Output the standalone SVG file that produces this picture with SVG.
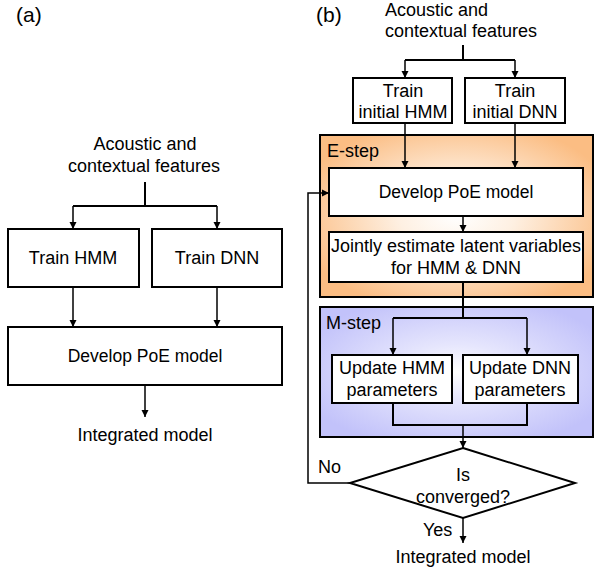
<svg xmlns="http://www.w3.org/2000/svg" width="607" height="574" viewBox="0 0 607 574">
<defs>
<marker id="ah" markerWidth="8" markerHeight="8" refX="7" refY="4" orient="auto" markerUnits="userSpaceOnUse">
<path d="M0,0.5 L7,4 L0,7.5 Z" fill="#000"/>
</marker>
<radialGradient id="gE" cx="0.5" cy="0.5" r="0.6">
<stop offset="0" stop-color="#ffffff"/>
<stop offset="0.35" stop-color="#fef0e2"/>
<stop offset="1" stop-color="#fbbd83"/>
</radialGradient>
<radialGradient id="gM" cx="0.5" cy="0.5" r="0.6">
<stop offset="0" stop-color="#ffffff"/>
<stop offset="0.35" stop-color="#e6e6fd"/>
<stop offset="1" stop-color="#c2c2fa"/>
</radialGradient>
</defs>
<style>
text{font-family:"Liberation Sans",Arial,sans-serif;font-size:18px;fill:#000}
.c{text-anchor:middle}
.s{font-size:17.5px}
.box{fill:#fff;stroke:#000;stroke-width:2}
.reg{stroke:#000;stroke-width:2}
.ln{fill:none;stroke:#000;stroke-width:2}
.ar{fill:none;stroke:#000;stroke-width:1.5;marker-end:url(#ah)}
</style>
<rect width="607" height="574" fill="#fff"/>

<text x="16" y="22" style="font-size:21px">(a)</text>
<text x="316" y="22" style="font-size:21px">(b)</text>

<g id="a-input">
<text class="c" x="145" y="150">Acoustic and</text>
<text class="c" x="144" y="172">contextual features</text>
</g>
<g id="a-train-hmm"><rect class="box" x="8" y="229" width="131" height="58"/><text class="c" x="73" y="264">Train HMM</text></g>
<g id="a-train-dnn"><rect class="box" x="152" y="229" width="130" height="58"/><text class="c" x="217" y="264">Train DNN</text></g>
<g id="a-poe"><rect class="box" x="8" y="327" width="274" height="58"/><text class="c s" x="145" y="362">Develop PoE model</text></g>
<g id="a-output"><text class="c" x="145" y="441">Integrated model</text></g>

<g id="b-input">
<text x="385" y="16">Acoustic and</text>
<text x="385" y="37">contextual features</text>
</g>
<g id="e-step"><rect class="reg" x="320" y="135" width="273" height="162" fill="url(#gE)"/><text x="327" y="157">E-step</text></g>
<g id="m-step"><rect class="reg" x="320" y="307" width="273" height="130" fill="url(#gM)"/><text x="326" y="329">M-step</text></g>
<g id="b-train-hmm"><rect class="box" x="353" y="78" width="99" height="45"/><text class="c" x="403" y="97">Train</text><text class="c" x="403" y="118">initial HMM</text></g>
<g id="b-train-dnn"><rect class="box" x="465" y="78" width="100" height="45"/><text class="c" x="515" y="97">Train</text><text class="c" x="515" y="118">initial DNN</text></g>
<g id="b-poe"><rect class="box" x="329" y="168" width="254" height="48"/><text class="c s" x="456" y="198">Develop PoE model</text></g>
<g id="b-joint"><rect class="box" x="329" y="232" width="254" height="50"/><text class="c" x="456" y="252">Jointly estimate latent variables</text><text class="c" x="456" y="274">for HMM &amp; DNN</text></g>
<g id="b-upd-hmm"><rect class="box" x="332" y="355" width="120" height="48"/><text class="c" x="392" y="374">Update HMM</text><text class="c" x="392" y="396">parameters</text></g>
<g id="b-upd-dnn"><rect class="box" x="463" y="355" width="115" height="48"/><text class="c" x="520" y="374">Update DNN</text><text class="c" x="520" y="396">parameters</text></g>
<g id="b-decision"><polygon points="463,448 575,483 463,518 350,483" fill="#fff" stroke="#000" stroke-width="2"/><text class="c" x="463" y="481">Is</text><text class="c" x="463" y="503">converged?</text></g>
<g id="b-output"><text class="c" x="463" y="563">Integrated model</text></g>

<g id="connectors">
<path class="ln" d="M145,182 V206 M73,206 H217"/>
<path class="ar" d="M73,206 V229"/>
<path class="ar" d="M217,206 V229"/>
<path class="ar" d="M73,287 V327"/>
<path class="ar" d="M217,287 V327"/>
<path class="ar" d="M145,385 V417"/>

<path class="ln" d="M463,45 V60 M405,60 H515"/>
<path class="ar" d="M405,60 V78"/>
<path class="ar" d="M515,60 V78"/>
<path class="ar" d="M405,123 V168"/>
<path class="ar" d="M515,123 V168"/>
<path class="ar" d="M463,216 V232"/>
<path class="ln" d="M463,282 V318 M393,318 H527"/>
<path class="ar" d="M393,318 V355"/>
<path class="ar" d="M527,318 V355"/>
<path class="ln" d="M393,403 V425 H527 V403"/>
<path class="ar" d="M463,425 V448"/>
<path class="ar" d="M350,483 H308 V193 H329"/>
<path class="ar" d="M463,518 V543"/>
<text x="318" y="473">No</text>
<text x="423" y="536">Yes</text>
</g>
</svg>
